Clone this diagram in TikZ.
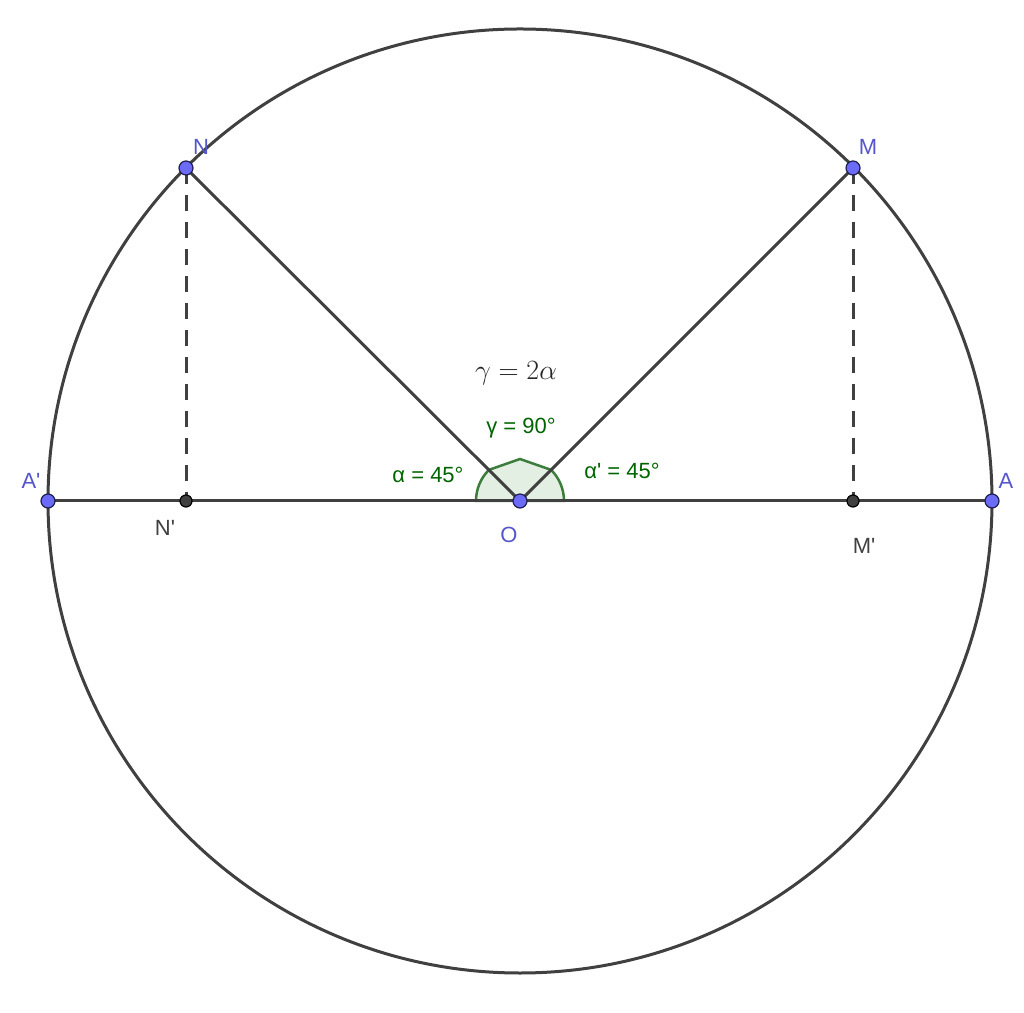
\documentclass[tikz,border=0pt]{standalone}
\usepackage{fix-cm}
\usepackage[no-math]{fontspec}
\newfontfamily\gfont[Ligatures=TeXOff]{Liberation Sans}
\usetikzlibrary{calc}
\definecolor{lineg}{HTML}{404040}
\definecolor{ptblue}{HTML}{6B6BF5}
\definecolor{ptedge}{HTML}{1E1E50}
\definecolor{lblblue}{HTML}{5555CC}
\definecolor{txtgreen}{HTML}{006400}
\definecolor{angstroke}{HTML}{3C7D3C}
\definecolor{angfill}{HTML}{E4EFE4}
\begin{document}
\begin{tikzpicture}[x=1pt,y=1pt,
  seg/.style={draw=lineg,line width=3pt},
  dashseg/.style={draw=lineg,line width=3pt,dash pattern=on 16pt off 11pt},
  bpt/.style={circle,fill=ptblue,draw=ptedge,line width=1.2pt,minimum size=14pt,inner sep=0pt},
  gpt/.style={circle,fill=lineg,draw=black,line width=1.2pt,minimum size=12pt,inner sep=0pt},
  blbl/.style={text=lblblue,font=\gfont\fontsize{22}{26}\selectfont,inner sep=0pt},
  dlbl/.style={text=lineg,font=\gfont\fontsize{22}{26}\selectfont,inner sep=0pt},
  glbl/.style={text=txtgreen,font=\gfont\fontsize{22}{26}\selectfont,inner sep=0pt},
  angmark/.style={draw=angstroke,line width=2.5pt,fill=angfill}]
\useasboundingbox[fill=white] (0,0) rectangle (1024,1012);
\coordinate (O) at (520,511);
\coordinate (M) at (853,844);
\coordinate (N) at (186,844);
\coordinate (A) at (992,511);
\coordinate (A1) at (48,511);
\coordinate (N1) at (186,511);
\coordinate (M1) at (853,511);
% angle mark
\path[angmark] (O) -- ($(O)+(44,0)$) arc[start angle=0,end angle=45,radius=44]
  -- (520,553) -- ($(O)+(135:44)$) arc[start angle=135,end angle=180,radius=44] -- cycle;
% circle
\draw[seg] (O) circle[radius=472];
% segments
\draw[seg] (A1) -- (A);
\draw[seg] (O) -- (M);
\draw[seg] (O) -- (N);
\draw[dashseg] (N) -- (N1);
\draw[dashseg] (M) -- (M1);
% points
\node[bpt] (pA) at (A) {};
\node[bpt] (pA1) at (A1) {};
\node[bpt] (pM) at (M) {};
\node[bpt] (pN) at (N) {};
\node[gpt] (pN1) at (N1) {};
\node[gpt] (pM1) at (M1) {};
\node[bpt] (pO) at (O) {};
% labels
\node[blbl] (lN) at (201,865) {N};
\node[blbl] (lM) at (868,865) {M};
\node[blbl] (lA1) at (31,531) {A'};
\node[blbl] (lA) at (1006,531) {A};
\node[blbl] (lO) at (509,477) {O};
\node[dlbl] (lN1) at (165,484) {N'};
\node[dlbl] (lM1) at (864,466) {M'};
\node[text=black!85,inner sep=0pt,font=\fontsize{22.5}{27}\selectfont,scale=1.24,transform shape] (eq) at (516,639) {$\gamma = 2\alpha$};
\node[glbl] (lg) at (521,584) {γ = 90°};
\node[glbl] (la) at (428,537) {α = 45°};
\node[glbl] (la1) at (622,541) {α' = 45°};
\end{tikzpicture}
\end{document}
